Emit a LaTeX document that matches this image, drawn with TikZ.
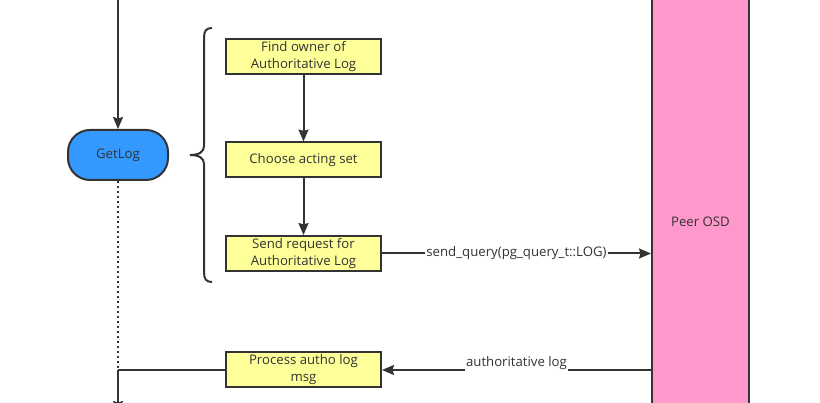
\documentclass[tikz,border=0pt]{standalone}
\usepackage{fontspec}
\setmainfont{Open Sans}
\usetikzlibrary{arrows.meta}
\definecolor{linec}{HTML}{333333}
\definecolor{boxyellow}{HTML}{FFFF99}
\definecolor{getblue}{HTML}{3399FF}
\definecolor{peerpink}{HTML}{FF99CC}
\tikzset{
  txt/.style={text=linec, font=\fontsize{13.2}{17}\selectfont},
  box/.style={txt, draw=linec, fill=boxyellow, line width=2pt, minimum width=155pt, minimum height=35pt, align=center, inner sep=0pt},
  conn/.style={draw=linec, line width=2pt},
  arr/.style={conn, -{Stealth[length=12pt,width=10pt,inset=1.5pt]}},
  lbl/.style={txt, fill=white, inner sep=1pt},
}
\begin{document}
\begin{tikzpicture}[x=1pt,y=-1pt]
\useasboundingbox (0,0) rectangle (820,403);
\clip (0,0) rectangle (820,403);
% Peer OSD column
\node[txt, draw=linec, fill=peerpink, line width=2pt, minimum width=97pt, minimum height=484pt, inner sep=0pt] (peer) at (700.5,222) {Peer OSD};
% GetLog
\node[txt, draw=linec, fill=getblue, line width=2pt, minimum width=100pt, minimum height=50pt, rounded corners=22pt] (getlog) at (118,155) {GetLog};
% boxes
\node[box] (find) at (303.5,56.5) {Find owner of\\Authoritative Log};
\node[box] (choose) at (303.5,160) {Choose acting set};
\node[box] (send) at (303.5,253.5) {Send request for\\Authoritative Log};
\node[box] (proc) at (303.5,370) {Process autho log\\msg};
% coordinates
\coordinate (top) at (118,-5);
\coordinate (j) at (118,370);
\coordinate (bot) at (118,413);
% connectors
\draw[arr] (top) -- (getlog.north);
\draw[conn, dash pattern=on 2pt off 3pt] (getlog.south) -- (j);
\draw[arr] (find.south) -- (choose.north);
\draw[arr] (choose.south) -- (send.north);
\draw[arr] (send.east) -- (peer.west |- send.east) node[lbl, midway] {send\_query(pg\_query\_t::LOG)};
\draw[arr] (peer.west |- proc.east) -- (proc.east) node[lbl, midway, yshift=7pt] {authoritative log};
\draw[conn] (proc.west) -- (j);
\draw[arr] (j) -- (bot);
% brace
\draw[linec, line width=2pt] (212,28) .. controls (206,28) and (204,31) .. (204,38) -- (204,146)
  .. controls (204,152) and (199,155) .. (190,155)
  .. controls (199,155) and (204,158) .. (204,164) -- (204,272)
  .. controls (204,279) and (206,282) .. (212,282);
\end{tikzpicture}
\end{document}
